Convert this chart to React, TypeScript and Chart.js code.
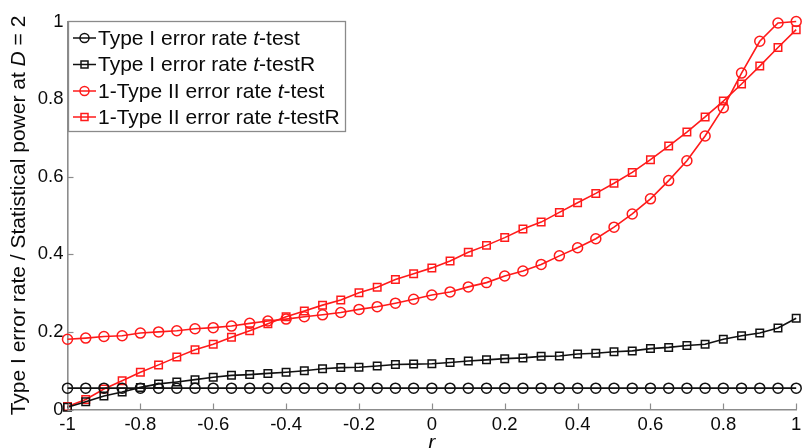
import React, { useEffect, useRef } from "react";
import { Chart, registerables } from "chart.js";

Chart.register(...registerables);

const R = [
  -1, -0.95, -0.9, -0.85, -0.8, -0.75, -0.7, -0.65, -0.6, -0.55, -0.5,
  -0.45, -0.4, -0.35, -0.3, -0.25, -0.2, -0.15, -0.1, -0.05, 0,
  0.05, 0.1, 0.15, 0.2, 0.25, 0.3, 0.35, 0.4, 0.45, 0.5,
  0.55, 0.6, 0.65, 0.7, 0.75, 0.8, 0.85, 0.9, 0.95, 1,
];

const TYPE1_TTEST = [
  0.055, 0.055, 0.055, 0.055, 0.055, 0.055, 0.055, 0.055, 0.055, 0.055, 0.055,
  0.055, 0.055, 0.055, 0.055, 0.055, 0.055, 0.055, 0.055, 0.055, 0.055,
  0.055, 0.055, 0.055, 0.055, 0.055, 0.055, 0.055, 0.055, 0.055, 0.055,
  0.055, 0.055, 0.055, 0.055, 0.055, 0.055, 0.055, 0.055, 0.055, 0.055,
];

const TYPE1_TTESTR = [
  0.006, 0.02, 0.035, 0.045, 0.057, 0.066, 0.071, 0.077, 0.083, 0.088, 0.09,
  0.093, 0.096, 0.1, 0.105, 0.108, 0.109, 0.112, 0.116, 0.117, 0.118,
  0.121, 0.125, 0.128, 0.131, 0.133, 0.137, 0.138, 0.143, 0.145, 0.149,
  0.151, 0.157, 0.16, 0.165, 0.168, 0.181, 0.19, 0.197, 0.21, 0.235,
];

const POWER_TTEST = [
  0.181, 0.184, 0.188, 0.19, 0.197, 0.2, 0.203, 0.208, 0.211, 0.215, 0.222,
  0.228, 0.233, 0.239, 0.244, 0.25, 0.258, 0.265, 0.274, 0.284, 0.295,
  0.303, 0.316, 0.327, 0.344, 0.357, 0.374, 0.396, 0.417, 0.44, 0.47,
  0.504, 0.543, 0.59, 0.641, 0.705, 0.778, 0.867, 0.949, 0.996, 1.0,
];

const POWER_TTESTR = [
  0.008, 0.026, 0.053, 0.074, 0.096, 0.115, 0.135, 0.154, 0.168, 0.186, 0.203,
  0.221, 0.239, 0.254, 0.269, 0.282, 0.301, 0.315, 0.335, 0.35, 0.365,
  0.383, 0.405, 0.423, 0.443, 0.465, 0.483, 0.508, 0.533, 0.557, 0.583,
  0.611, 0.644, 0.679, 0.715, 0.754, 0.795, 0.839, 0.885, 0.933, 0.979,
];

const X_TICKS = [-1, -0.8, -0.6, -0.4, -0.2, 0, 0.2, 0.4, 0.6, 0.8, 1];
const X_TICK_LABELS = ["-1", "-0.8", "-0.6", "-0.4", "-0.2", "0", "0.2", "0.4", "0.6", "0.8", "1"];
const Y_TICKS = [0, 0.2, 0.4, 0.6, 0.8, 1];
const Y_TICK_LABELS = ["0", "0.2", "0.4", "0.6", "0.8", "1"];

// label segments: [text, italic]
const SERIES_LABELS: [string, boolean][][] = [
  [["Type I error rate ", false], ["t", true], ["-test", false]],
  [["Type I error rate ", false], ["t", true], ["-testR", false]],
  [["1-Type II error rate ", false], ["t", true], ["-test", false]],
  [["1-Type II error rate ", false], ["t", true], ["-testR", false]],
];
const Y_TITLE: [string, boolean][] = [
  ["Type I error rate / Statistical power at ", false],
  ["D", true],
  [" = 2", false],
];
const X_TITLE = "r";

const FONT = '"Liberation Sans", Arial, Helvetica, sans-serif';
const BLACK = "#111111";
const RED = "#ff1a1a";
const AXIS_GRAY = "#8c8c8c";
const TEXT = "#0a0a0a";

function drawSegments(ctx: CanvasRenderingContext2D, segs: [string, boolean][], x: number, y: number, size: number) {
  let cx = x;
  for (const [t, it] of segs) {
    ctx.font = `${it ? "italic " : ""}${size}px ${FONT}`;
    ctx.fillText(t, cx, y);
    cx += ctx.measureText(t).width;
  }
}
function segWidth(ctx: CanvasRenderingContext2D, segs: [string, boolean][], size: number) {
  let w = 0;
  for (const [t, it] of segs) {
    ctx.font = `${it ? "italic " : ""}${size}px ${FONT}`;
    w += ctx.measureText(t).width;
  }
  return w;
}

function drawMarker(ctx: CanvasRenderingContext2D, style: string, x: number, y: number, color: string) {
  ctx.save();
  ctx.strokeStyle = color;
  ctx.lineWidth = 1.5;
  ctx.beginPath();
  if (style === "circle") {
    ctx.arc(x, y, 4.5, 0, Math.PI * 2);
  } else {
    ctx.rect(x - 3.5, y - 3.5, 7, 7);
  }
  ctx.stroke();
  ctx.restore();
}

const overlayPlugin = {
  id: "overlay",
  afterDraw(chart: any) {
    const ctx: CanvasRenderingContext2D = chart.ctx;
    const xs = chart.scales.x;
    const ys = chart.scales.y;
    const area = chart.chartArea;
    ctx.save();
    // inward tick marks
    ctx.strokeStyle = AXIS_GRAY;
    ctx.lineWidth = 1.2;
    for (const v of Y_TICKS) {
      const py = Math.round(ys.getPixelForValue(v)) + 0.5;
      ctx.beginPath();
      ctx.moveTo(area.left, py);
      ctx.lineTo(area.left + 6, py);
      ctx.stroke();
    }
    for (const v of X_TICKS) {
      const px = Math.round(xs.getPixelForValue(v)) + 0.5;
      ctx.beginPath();
      ctx.moveTo(px, area.bottom);
      ctx.lineTo(px, area.bottom - 6);
      ctx.stroke();
    }

    // legend
    const lx = 68.5, ly = 21.5, lw = 277, lh = 110;
    ctx.fillStyle = "#ffffff";
    ctx.fillRect(lx, ly, lw, lh);
    ctx.strokeStyle = "#8a8a8a";
    ctx.lineWidth = 1.3;
    ctx.strokeRect(lx, ly, lw, lh);
    const colors = [BLACK, BLACK, RED, RED];
    const styles = ["circle", "rect", "circle", "rect"];
    const rowY = [38, 64.5, 91, 117];
    for (let i = 0; i < 4; i++) {
      const y = rowY[i];
      ctx.strokeStyle = colors[i];
      ctx.lineWidth = 1.5;
      ctx.beginPath();
      ctx.moveTo(73, y);
      ctx.lineTo(96, y);
      ctx.stroke();
      drawMarker(ctx, styles[i], 84.5, y, colors[i]);
      ctx.fillStyle = TEXT;
      ctx.textBaseline = "middle";
      ctx.textAlign = "left";
      drawSegments(ctx, SERIES_LABELS[i], 98, y + 1, 21);
    }

    // y title
    const tsize = 21;
    const tw = segWidth(ctx, Y_TITLE, tsize);
    ctx.save();
    ctx.translate(19, (area.top + area.bottom) / 2);
    ctx.rotate(-Math.PI / 2);
    ctx.fillStyle = TEXT;
    ctx.textBaseline = "middle";
    ctx.textAlign = "left";
    drawSegments(ctx, Y_TITLE, -tw / 2, 0, tsize);
    ctx.restore();

    // x title
    ctx.font = `italic 21px ${FONT}`;
    ctx.textAlign = "center";
    ctx.textBaseline = "middle";
    ctx.fillStyle = TEXT;
    ctx.fillText(X_TITLE, (area.left + area.right) / 2, 443);
    ctx.restore();
  },
};

export default function App() {
  const canvasRef = useRef<HTMLCanvasElement | null>(null);

  useEffect(() => {
    if (!canvasRef.current) return;
    const mk = (vals: number[]) => R.map((x, i) => ({ x, y: vals[i] }));
    const ds = (label: string, vals: number[], color: string, style: string) => ({
      label,
      data: mk(vals),
      borderColor: color,
      backgroundColor: "rgba(0,0,0,0)",
      borderWidth: 1.6,
      pointStyle: style,
      pointRadius: style === "circle" ? 5 : 5.3,
      pointBorderWidth: 1.5,
      pointBorderColor: color,
      pointBackgroundColor: "rgba(0,0,0,0)",
      tension: 0,
      clip: false as any,
    });
    const chart = new Chart(canvasRef.current, {
      type: "line",
      data: {
        datasets: [
          ds("Type I error rate t-test", TYPE1_TTEST, BLACK, "circle"),
          ds("Type I error rate t-testR", TYPE1_TTESTR, BLACK, "rect"),
          ds("1-Type II error rate t-test", POWER_TTEST, RED, "circle"),
          ds("1-Type II error rate t-testR", POWER_TTESTR, RED, "rect"),
        ],
      },
      options: {
        animation: false,
        responsive: true,
        maintainAspectRatio: false,
        layout: { padding: { left: 0, right: 6, top: 21.5, bottom: 0 } },
        plugins: { legend: { display: false }, tooltip: { enabled: false } },
        scales: {
          x: {
            type: "linear",
            min: -1,
            max: 1,
            afterBuildTicks: (s: any) => {
              s.ticks = X_TICKS.map((v) => ({ value: v }));
            },
            afterFit: (s: any) => {
              s.height = 38.5;
              s.paddingLeft = 0;
              s.paddingRight = 0;
            },
            ticks: {
              autoSkip: false,
              maxRotation: 0,
              padding: 4,
              color: TEXT,
              font: { family: FONT, size: 18.5 },
              callback: (v: any) => {
                const i = X_TICKS.findIndex((t) => Math.abs(t - Number(v)) < 1e-9);
                return i >= 0 ? X_TICK_LABELS[i] : "";
              },
            },
            grid: { display: true, drawOnChartArea: false, drawTicks: false, color: "rgba(0,0,0,0)" },
            border: { display: true, color: AXIS_GRAY, width: 1.6 },
          },
          y: {
            type: "linear",
            min: 0,
            max: 1,
            afterBuildTicks: (s: any) => {
              s.ticks = Y_TICKS.map((v) => ({ value: v }));
            },
            afterFit: (s: any) => {
              s.width = 67.5;
              s.paddingTop = 0;
              s.paddingBottom = 0;
            },
            ticks: {
              autoSkip: false,
              padding: 4,
              color: TEXT,
              font: { family: FONT, size: 18.5 },
              callback: (v: any) => {
                const i = Y_TICKS.findIndex((t) => Math.abs(t - Number(v)) < 1e-9);
                return i >= 0 ? Y_TICK_LABELS[i] : "";
              },
            },
            grid: { display: true, drawOnChartArea: false, drawTicks: false, color: "rgba(0,0,0,0)" },
            border: { display: true, color: AXIS_GRAY, width: 1.6 },
          },
        },
      },
      plugins: [overlayPlugin],
    });
    return () => chart.destroy();
  }, []);

  return (
    <div style={{ position: "absolute", left: 0, top: 0, width: 803, height: 448, background: "#fff" }}>
      <canvas ref={canvasRef} />
    </div>
  );
}
